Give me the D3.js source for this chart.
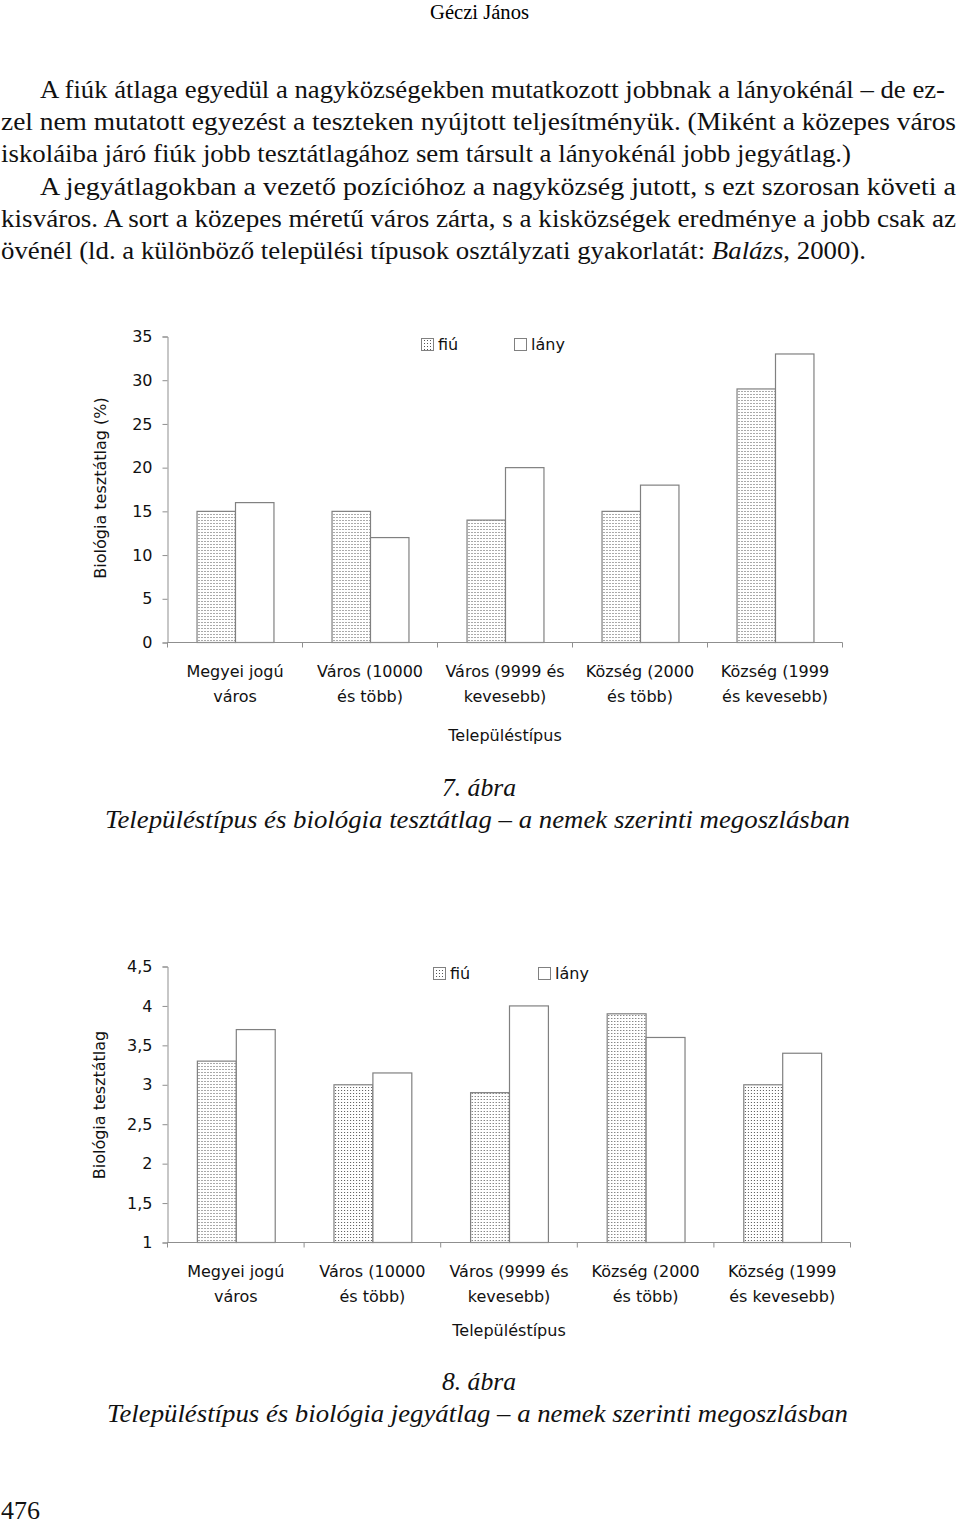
<!DOCTYPE html>
<html>
<head>
<meta charset="utf-8">
<script src="https://cdn.jsdelivr.net/npm/d3@7"></script>
<style>
  html, body { margin: 0; padding: 0; background: #fff; }
  svg { display: block; }
</style>
</head>
<body>
<svg id="page" width="960" height="1525"></svg>
<script>
// ---------- data ----------
const categories = [
  "Megyei jogú\nváros",
  "Város (10000\nés több)",
  "Város (9999 és\nkevesebb)",
  "Község (2000\nés több)",
  "Község (1999\nés kevesebb)"
];
const seriesNames = ["fiú", "lány"];

// 7. ábra – biológia tesztátlag (%)
const test_fiu  = [15, 15, 14, 15, 29];
const test_lany = [16, 12, 20, 18, 33];
const testTicks = [0, 5, 10, 15, 20, 25, 30, 35];

// 8. ábra – biológia jegyátlag
const grade_fiu  = [3.3, 3.0, 2.9, 3.9, 3.0];
const grade_lany = [3.7, 3.15, 4.0, 3.6, 3.4];
const gradeTicks = [1, 1.5, 2, 2.5, 3, 3.5, 4, 4.5];

const xTitle = "Településtípus";

const bodyLines = [
  "A fiúk átlaga egyedül a nagyközségekben mutatkozott jobbnak a lányokénál – de ez-",
  "zel nem mutatott egyezést a teszteken nyújtott teljesítményük. (Miként a közepes város",
  "iskoláiba járó fiúk jobb tesztátlagához sem társult a lányokénál jobb jegyátlag.)",
  "A jegyátlagokban a vezető pozícióhoz a nagyközség jutott, s ezt szorosan követi a",
  "kisváros. A sort a közepes méretű város zárta, s a kisközségek eredménye a jobb csak az",
  "övénél (ld. a különböző települési típusok osztályzati gyakorlatát: |Balázs|, 2000)."
];

// ---------- drawing ----------
const svg = d3.select("#page");
const serif = "'Liberation Serif', 'Times New Roman', serif";
const sans = "'DejaVu Sans', Verdana, sans-serif";
const axisColor = "#8f8f8f";
const barStroke = "#808080";

// dotted pattern for "fiú"
const defs = svg.append("defs");
const pat = defs.append("pattern")
  .attr("id", "dots").attr("patternUnits", "userSpaceOnUse")
  .attr("width", 3).attr("height", 3);
pat.append("rect").attr("width", 3).attr("height", 3).attr("fill", "#fff");
pat.append("rect").attr("x", 1).attr("y", 1).attr("width", 1).attr("height", 1)
  .attr("fill", "#555").attr("shape-rendering", "crispEdges");

const fills = {"fiú": "url(#dots)", "lány": "#fff"};

// header
svg.append("text").attr("x", 430).attr("y", 19)
  .attr("font-family", serif).attr("font-size", 20)
  .attr("textLength", 99).attr("lengthAdjust", "spacingAndGlyphs")
  .text("Géczi János");

// body text
const bodyLayout = [
  {x: 40, w: 905, y: 98},
  {x: 1, w: 955, y: 130},
  {x: 1, w: 850, y: 162},
  {x: 40, w: 916, y: 195},
  {x: 1, w: 955, y: 227},
  {x: 1, w: 865, y: 259}
];
bodyLines.forEach((line, i) => {
  const L = bodyLayout[i];
  const t = svg.append("text").attr("x", L.x).attr("y", L.y)
    .attr("font-family", serif).attr("font-size", 25)
    .attr("textLength", L.w).attr("lengthAdjust", "spacingAndGlyphs")
    .attr("fill", "#111");
  line.split("|").forEach((part, k) => {
    t.append("tspan").attr("font-style", k === 1 ? "italic" : "normal").text(part);
  });
});

function drawChart(cfg) {
  const g = svg.append("g");
  const y = d3.scaleLinear().domain(cfg.domain).range([cfg.y0, cfg.y1]);
  const x = d3.scaleBand().domain(categories).range([cfg.xl, cfg.xr]).padding(0);
  const xs = d3.scaleBand().domain(seriesNames).range([0, x.bandwidth()])
    .paddingInner(0).paddingOuter(0.755);

  // y axis
  const yAxis = d3.axisLeft(y).tickValues(cfg.ticks).tickSize(5).tickPadding(10)
    .tickFormat(cfg.fmt);
  const ya = g.append("g").attr("transform", `translate(${cfg.xl},0)`).call(yAxis);
  ya.select(".domain").attr("stroke", axisColor);
  ya.selectAll(".tick line").attr("stroke", axisColor);
  ya.selectAll(".tick text").attr("font-family", sans).attr("font-size", 16).attr("fill", "#111");

  // bars
  const rows = categories.map((c, i) => ({c, vals: [
    {s: "fiú", v: cfg.fiu[i]}, {s: "lány", v: cfg.lany[i]}]}));
  const grp = g.selectAll("g.cat").data(rows).join("g")
    .attr("transform", d => `translate(${x(d.c)},0)`);
  grp.selectAll("rect").data(d => d.vals).join("rect")
    .attr("x", d => xs(d.s) + 0.5)
    .attr("width", xs.bandwidth())
    .attr("y", d => y(d.v))
    .attr("height", d => y(cfg.domain[0]) - y(d.v))
    .attr("fill", d => fills[d.s])
    .attr("stroke", barStroke).attr("stroke-width", 1.2);

  // x axis
  const bounds = categories.map(c => x(c)).concat([x.range()[1]]);
  g.append("line").attr("x1", cfg.xl).attr("x2", cfg.xr)
    .attr("y1", cfg.y0).attr("y2", cfg.y0).attr("stroke", axisColor);
  g.selectAll("line.xt").data(bounds).join("line").attr("class", "xt")
    .attr("x1", d => d).attr("x2", d => d)
    .attr("y1", cfg.y0).attr("y2", cfg.y0 + 5).attr("stroke", axisColor);

  // category labels
  const cl = g.selectAll("text.cl").data(categories).join("text").attr("class", "cl")
    .attr("text-anchor", "middle").attr("font-family", sans).attr("font-size", 16).attr("fill", "#111");
  cl.each(function(c) {
    const t = d3.select(this);
    c.split("\n").forEach((ln, k) => {
      t.append("tspan").attr("x", x(c) + x.bandwidth() / 2)
        .attr("y", cfg.y0 + 34 + k * 25).text(ln);
    });
  });

  // x title
  g.append("text").attr("x", (cfg.xl + cfg.xr) / 2).attr("y", cfg.xTitleY)
    .attr("text-anchor", "middle").attr("font-family", sans).attr("font-size", 16).attr("fill", "#111")
    .text(xTitle);

  // y title
  g.append("text")
    .attr("transform", `translate(${cfg.yTitleX},${cfg.yTitleY}) rotate(-90)`)
    .attr("text-anchor", "middle").attr("font-family", sans).attr("font-size", 16).attr("fill", "#111")
    .text(cfg.yTitle);

  // legend
  seriesNames.forEach((s, i) => {
    const L = cfg.legend[i];
    g.append("rect").attr("x", L.x + 0.5).attr("y", L.y + 0.5).attr("width", 12).attr("height", 12)
      .attr("fill", fills[s]).attr("stroke", barStroke);
    g.append("text").attr("x", L.x + 17).attr("y", L.y + 12)
      .attr("font-family", sans).attr("font-size", 16).attr("fill", "#111").text(s);
  });

  // caption
  svg.append("text").attr("x", 442).attr("y", cfg.capY)
    .attr("font-family", serif).attr("font-style", "italic").attr("font-size", 25)
    .attr("textLength", 74).attr("lengthAdjust", "spacingAndGlyphs").attr("fill", "#111")
    .text(cfg.capNum);
  svg.append("text").attr("x", cfg.capX).attr("y", cfg.capY + 32)
    .attr("font-family", serif).attr("font-style", "italic").attr("font-size", 25)
    .attr("textLength", cfg.capW).attr("lengthAdjust", "spacingAndGlyphs").attr("fill", "#111")
    .text(cfg.caption);
}

drawChart({
  domain: [0, 35], ticks: testTicks, fmt: d3.format("d"),
  y0: 642.5, y1: 336.5, xl: 167.5, xr: 842.5,
  fiu: test_fiu, lany: test_lany,
  xTitleY: 741, yTitleX: 106, yTitleY: 488,
  yTitle: "Biológia tesztátlag (%)",
  legend: [{x: 421, y: 338}, {x: 514, y: 338}],
  capNum: "7. ábra", capY: 796, capX: 105, capW: 745,
  caption: "Településtípus és biológia tesztátlag – a nemek szerinti megoszlásban"
});

drawChart({
  domain: [1, 4.5], ticks: gradeTicks, fmt: d => d3.format("~g")(d).replace(".", ","),
  y0: 1242.5, y1: 966.5, xl: 167.5, xr: 850.5,
  fiu: grade_fiu, lany: grade_lany,
  xTitleY: 1336, yTitleX: 105, yTitleY: 1105,
  yTitle: "Biológia tesztátlag",
  legend: [{x: 433, y: 967}, {x: 538, y: 967}],
  capNum: "8. ábra", capY: 1390, capX: 107, capW: 741,
  caption: "Településtípus és biológia jegyátlag – a nemek szerinti megoszlásban"
});

// page number
svg.append("text").attr("x", 1).attr("y", 1519)
  .attr("font-family", serif).attr("font-size", 25)
  .attr("textLength", 39).attr("lengthAdjust", "spacingAndGlyphs").attr("fill", "#111")
  .text("476");
</script>
</body>
</html>
